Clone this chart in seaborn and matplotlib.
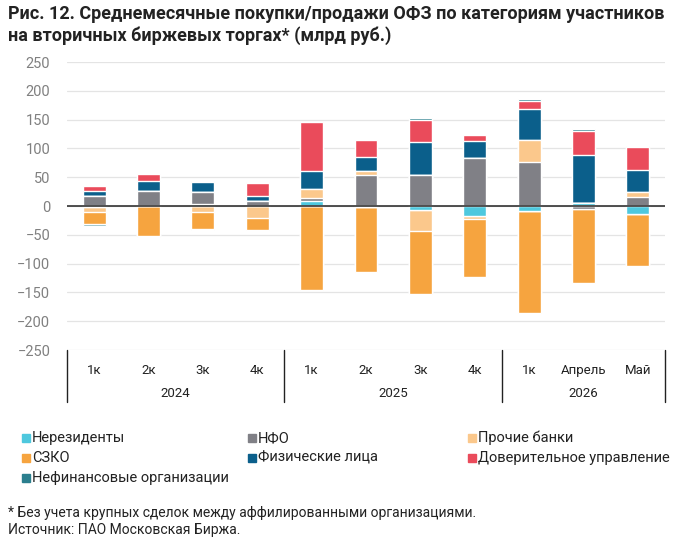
import numpy as np
import pandas as pd
import seaborn as sns
import matplotlib
matplotlib.use("Agg")
import matplotlib.pyplot as plt
from matplotlib.patches import Rectangle
from matplotlib.lines import Line2D

# categories
keys = ["2024-1", "2024-2", "2024-3", "2024-4",
        "2025-1", "2025-2", "2025-3", "2025-4",
        "2026-1", "2026-4", "2026-5"]
period_labels = ["1к", "2к", "3к", "4к", "1к", "2к", "3к", "4к", "1к", "Апрель", "Май"]
years = ["2024", "2025", "2026"]
year_sizes = [4, 4, 3]

series_names = ["Нерезиденты", "НФО", "Прочие банки", "СЗКО",
                "Физические лица", "Доверительное управление",
                "Нефинансовые организации"]
series_colors = ["#4ec8de", "#808086", "#fbc88c", "#f6a43f",
                 "#0b5f8b", "#ea4b5b", "#2b7f8e"]

# values, bn rub
nerez  = [-2, 0, 3, 0, 8, -2, -7, -17, -9, 5, -14]
nfo    = [17, 26, 22, 9, 6, 54, 54, 83, 77, -6, 16]
banks  = [-8, 0, -10, -21, 15, 7, -36, -6, 37, 0, 9]
szko   = [-22, -52, -30, -20, -146, -113, -110, -101, -176, -128, -91]
phys   = [9, 17, 16, 9, 31, 24, 57, 30, 54, 83, 38]
trust  = [8, 12, 2.5, 22, 85, 30, 38, 10, 14, 42, 40]
nonfin = [-2, -2, -2.5, 2, 0, 0, 3, 0, 3, 4, 2]

data = np.array([nerez, nfo, banks, szko, phys, trust, nonfin], dtype=float)

sns.set_theme(style="white")
plt.rcParams["font.family"] = ["Roboto", "DejaVu Sans"]

fig = plt.figure(figsize=(6.92, 5.43), dpi=100)
ax = fig.add_axes([67 / 692, 1 - 350 / 543, (665 - 67) / 692, (350 - 62) / 543])

pos = np.clip(data, 0, None).cumsum(axis=0)
neg = np.clip(data, None, 0).cumsum(axis=0)

# overlap trick: draw the cumulative totals from the outermost series inwards
for stack in (pos, neg):
    for i in reversed(range(len(series_names))):
        df = pd.DataFrame({"key": keys, "val": stack[i]})
        sns.barplot(data=df, x="key", y="val", order=keys, color=series_colors[i],
                    saturation=1, width=0.42, errorbar=None, ax=ax, zorder=3)

ax.set_xlim(-0.5, len(keys) - 0.5)
ax.set_ylim(-250, 250)
ax.set_yticks(range(-250, 251, 50))
ax.yaxis.grid(True, color="#e4e4e4", linewidth=0.9, zorder=0)
ax.set_axisbelow(True)
ax.axhline(0, color="#222222", linewidth=1.1, zorder=4)
for s in ax.spines.values():
    s.set_visible(False)
ax.set_xlabel("")
ax.set_ylabel("")
ax.tick_params(axis="y", length=0, labelsize=10.5, labelcolor="#808080", pad=12)
ax.set_xticks(range(len(keys)))
ax.set_xticklabels(period_labels, fontsize=9.5, color="#222222")
ax.tick_params(axis="x", length=0, pad=10)

# year labels and separators below the axis
trans = ax.get_xaxis_transform()
start = 0
edges = [-0.5]
for yr, n in zip(years, year_sizes):
    center = start + (n - 1) / 2
    ax.text(center, -0.15, yr, transform=trans, ha="center", va="center",
            fontsize=9.5, color="#222222")
    start += n
    edges.append(start - 0.5)
for e in edges:
    ax.add_line(Line2D([e, e], [0, -0.18], transform=trans, color="#222222",
                       linewidth=1.0, clip_on=False))

# title
fig.text(8 / 692, 1 - 5 / 543,
         "Рис. 12. Среднемесячные покупки/продажи ОФЗ по категориям участников\n"
         "на вторичных биржевых торгах* (млрд руб.)",
         ha="left", va="top", fontsize=13, fontweight="bold", color="#222222",
         linespacing=1.2)

# legend, 3 columns
col_x = [22, 248, 468]
row_y = [438, 458, 478]
for i, (name, c) in enumerate(zip(series_names, series_colors)):
    cx = col_x[i % 3]
    cy = row_y[i // 3]
    fig.patches.append(Rectangle((cx / 692, 1 - (cy + 4) / 543), 8 / 692, 8 / 543,
                                 transform=fig.transFigure, color=c, figure=fig))
    fig.text((cx + 10) / 692, 1 - cy / 543, name, ha="left", va="center",
             fontsize=10.5, color="#222222")

fig.text(8 / 692, 1 - 513 / 543,
         "* Без учета крупных сделок между аффилированными организациями.",
         ha="left", va="center", fontsize=10, color="#222222")
fig.text(8 / 692, 1 - 530 / 543, "Источник: ПАО Московская Биржа.",
         ha="left", va="center", fontsize=10, color="#222222")

fig.savefig("out.png", dpi=100)
